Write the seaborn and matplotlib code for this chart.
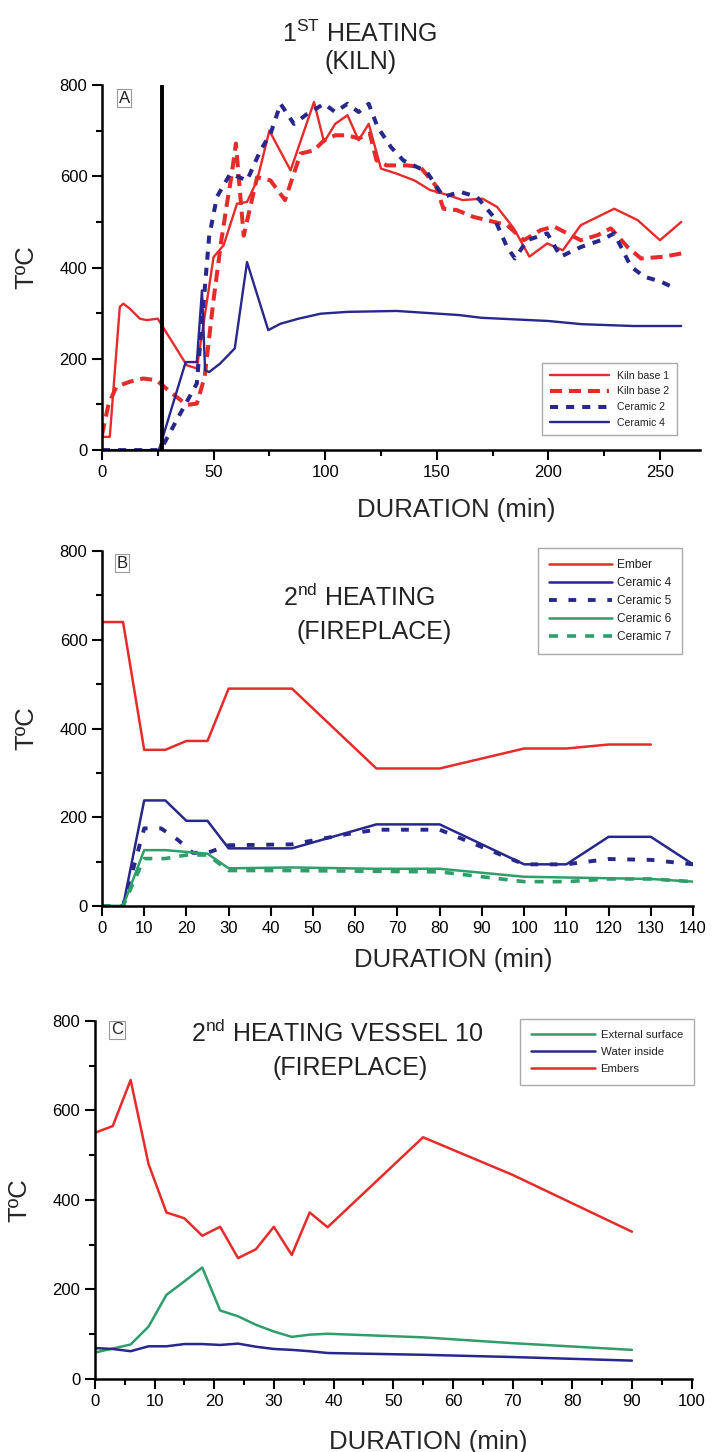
import matplotlib.pyplot as plt
import matplotlib.ticker as mticker
import numpy as np
import pandas as pd
import seaborn as sns

RED = "#e62b2b"
BLUE = "#27278c"
GREEN = "#2f9e6a"

# ---- panel A : 1st heating (kiln) ----
kiln1_t = [0, 3.5, 8, 9.6, 12.5, 17, 20, 25, 38, 42.5, 50, 54.5, 60.5, 65, 69.5, 75, 84.5,
           95, 99.5, 104.5, 110, 115, 119.5, 125, 132, 140, 147, 155, 161.5, 170.5, 177,
           184.5, 191.5, 199.5, 206.5, 214.5, 229.5, 240, 250, 259.5]
kiln1_T = [29, 29, 314, 321, 310, 288, 285, 288, 186, 179, 423, 449, 540, 544, 591, 700, 613,
           763, 675, 715, 734, 679, 715, 617, 606, 591, 570, 559, 548, 551, 533,
           486, 424, 453, 438, 493, 529, 504, 460, 500]

kiln2_t = [0, 3, 6.5, 12.5, 18.5, 24.5, 30.5, 38, 42.5, 46, 50, 53.5, 56, 58, 60, 63.5, 69.5,
           75.5, 82, 89, 95, 99.5, 104.5, 110, 115, 120, 123, 127.5, 136.5, 142.5, 149.5, 153,
           159, 166.5, 172.5, 181.5, 189, 196.5, 202.5, 208.5, 214.5, 222, 228, 235.5, 241.5,
           252, 259.5]
kiln2_T = [33, 102, 139, 150, 157, 153, 128, 99, 102, 160, 330, 460, 540, 600, 672, 470, 598,
           591, 548, 650, 657, 679, 690, 690, 683, 694, 635, 624, 624, 621, 580, 529,
           526, 511, 504, 493, 460, 482, 490, 475, 460, 471, 486, 445, 420,
           424, 431]

cer2_t = [0, 25, 27, 33.5, 42.5, 45.5, 48, 51.5, 57.5, 65, 71, 75.5, 80, 86, 92, 99.5, 104.5,
          110, 115, 119.5, 123.5, 129.5, 135, 145.5, 153, 160.5, 168, 175.5, 181.5, 185, 190.5,
          199.5, 205.5, 214.5, 223.5, 229.5, 237, 243, 250.5, 257]
cer2_T = [0, 0, 7, 66, 146, 321, 467, 555, 606, 591, 657, 693, 759, 715, 737, 759, 741,
          759, 741, 759, 708, 664, 635, 610, 555, 566, 555, 511, 445, 420, 460,
          475, 424, 445, 460, 475, 402, 380, 369, 354]

cer4a_t = [0, 25.5, 37.5, 42.5, 44.8, 46.2, 48, 53, 59.5, 65, 74.5, 80, 88, 98, 110, 132, 160,
           170, 200, 215, 238, 259.5]
cer4a_T = [0, 0, 193, 193, 350, 175, 171, 190, 223, 412, 263, 277, 288, 299, 303, 305, 296,
           290, 283, 276, 272, 272]

door_t = 27  # vertical black marker

# ---- panel B : 2nd heating (fireplace) ----
ember_t = [0, 5, 10, 15, 20, 25, 30, 45, 65, 80, 100, 110, 120, 130]
ember_T = [640, 640, 352, 352, 372, 372, 490, 490, 310, 310, 355, 355, 364, 364]

cer4b_t = [0, 5, 10, 15, 20, 25, 30, 45, 65, 80, 100, 110, 120, 130, 140]
cer4b_T = [0, 0, 238, 238, 192, 192, 130, 130, 184, 184, 94, 94, 156, 156, 94]

cer5_t = [0, 5, 10, 14, 18, 21.5, 25, 30, 45, 58, 65, 80, 100, 110, 120, 130, 140]
cer5_T = [0, 0, 175, 175, 149, 120, 120, 137, 139, 162, 172, 172, 94, 94, 106, 104, 94]

cer6_t = [0, 5, 10, 15, 25, 30, 45, 65, 80, 100, 130, 140]
cer6_T = [0, 0, 126, 126, 118, 85, 87, 84, 84, 66, 61, 55]

cer7_t = [0, 5, 10, 15, 20, 25, 30, 45, 80, 100, 110, 120, 130, 140]
cer7_T = [0, 0, 107, 107, 115, 115, 80, 80, 77, 55, 55, 61, 61, 55]

# ---- panel C : 2nd heating vessel 10 ----
vessel_t = [0, 3, 6, 9, 12, 15, 18, 21, 24, 27, 30, 33, 36, 39, 55, 70, 90]
external_T = [59, 68, 77, 117, 188, 218, 249, 153, 140, 121, 106, 94, 99, 101, 93, 80, 65]
water_T = [69, 67, 62, 73, 73, 78, 78, 76, 79, 72, 67, 65, 62, 58, 54, 49, 41]
embers_T = [550, 565, 668, 480, 372, 359, 320, 340, 270, 290, 340, 277, 372, 339, 540, 456, 329]

sns.set_style("ticks")
plt.rcParams['font.family'] = ['Liberation Sans', 'DejaVu Sans']
plt.rcParams['mathtext.fontset'] = 'custom'
plt.rcParams['mathtext.rm'] = 'Liberation Sans'
plt.rcParams['axes.edgecolor'] = 'black'
plt.rcParams['xtick.color'] = 'black'
plt.rcParams['ytick.color'] = 'black'
plt.rcParams['text.color'] = '#222222'

fig = plt.figure(figsize=(7.13, 14.52), dpi=100)
axA = fig.add_axes([0.143, 0.690, 0.839, 0.2514])
axB = fig.add_axes([0.143, 0.376, 0.829, 0.2445])
axC = fig.add_axes([0.133, 0.0503, 0.837, 0.2466])


def style_axis(ax, xmax, xmajor, xminor, xlab_pos, letter, letter_pos):
    ax.set_xlim(0, xmax)
    ax.set_ylim(0, 800)
    ax.xaxis.set_major_locator(mticker.MultipleLocator(xmajor))
    if xminor:
        ax.xaxis.set_minor_locator(mticker.MultipleLocator(xminor))
    ax.yaxis.set_major_locator(mticker.MultipleLocator(200))
    ax.yaxis.set_minor_locator(mticker.MultipleLocator(100))
    ax.tick_params(which='major', length=7, width=1.5, direction='out', labelsize=12)
    ax.tick_params(which='minor', length=4, width=1.5, direction='out')
    sns.despine(ax=ax)
    for s in ['left', 'bottom']:
        ax.spines[s].set_linewidth(1.8)
    ax.set_xlabel('DURATION (min)', fontsize=18.5)
    ax.set_ylabel('TºC', fontsize=18.5)
    ax.xaxis.set_label_coords(*xlab_pos)
    ax.yaxis.set_label_coords(-0.107, 0.5)
    ax.text(letter_pos[0], letter_pos[1], letter, transform=ax.transAxes, fontsize=12,
            ha='center', va='center',
            bbox=dict(boxstyle='square,pad=0.1', fc='white', ec='#999999', lw=0.8))


# panel A
sns.lineplot(x=kiln1_t, y=kiln1_T, ax=axA, color=RED, lw=1.7, label='Kiln base 1')
sns.lineplot(x=kiln2_t, y=kiln2_T, ax=axA, color=RED, lw=2.9,
             linestyle=(0, (3, 1.7)), label='Kiln base 2')
sns.lineplot(x=cer2_t, y=cer2_T, ax=axA, color=BLUE, lw=2.9,
             linestyle=(0, (2, 2)), label='Ceramic 2')
sns.lineplot(x=cer4a_t, y=cer4a_T, ax=axA, color=BLUE, lw=1.7, label='Ceramic 4')
axA.axvline(door_t, color='black', lw=2.8)
style_axis(axA, 268, 50, 25, (0.592, -0.13), 'A', (0.037, 0.964))
axA.legend(loc='upper left', bbox_to_anchor=(0.736, 0.238), borderaxespad=0,
           fontsize=7.6, handlelength=5.6, labelspacing=0.55, borderpad=0.7,
           fancybox=False, edgecolor='#aaaaaa', framealpha=1)
fig.text(0.505, 0.977, '1$^{\\mathrm{ST}}$ HEATING', ha='center', va='center', fontsize=18)
fig.text(0.505, 0.957, '(KILN)', ha='center', va='center', fontsize=18)

# panel B
sns.lineplot(x=ember_t, y=ember_T, ax=axB, color=RED, lw=1.8, label='Ember')
sns.lineplot(x=cer4b_t, y=cer4b_T, ax=axB, color=BLUE, lw=1.8, label='Ceramic 4')
sns.lineplot(x=cer5_t, y=cer5_T, ax=axB, color=BLUE, lw=2.8,
             linestyle=(0, (2, 3)), label='Ceramic 5')
sns.lineplot(x=cer6_t, y=cer6_T, ax=axB, color=GREEN, lw=1.8, label='Ceramic 6')
sns.lineplot(x=cer7_t, y=cer7_T, ax=axB, color=GREEN, lw=2.6,
             linestyle=(0, (2.5, 2.5)), label='Ceramic 7')
style_axis(axB, 140, 10, None, (0.594, -0.118), 'B', (0.034, 0.966))
axB.legend(loc='upper left', bbox_to_anchor=(0.738, 1.008), borderaxespad=0,
           fontsize=8.6, handlelength=5.3, handletextpad=0.4, labelspacing=0.5,
           borderpad=0.9, fancybox=False, edgecolor='#aaaaaa', framealpha=1)
axB.text(0.435, 0.868, '2$^{\\mathrm{nd}}$ HEATING', transform=axB.transAxes,
         ha='center', va='center', fontsize=18)
axB.text(0.46, 0.772, '(FIREPLACE)', transform=axB.transAxes,
         ha='center', va='center', fontsize=18)

# panel C
sns.lineplot(x=vessel_t, y=external_T, ax=axC, color=GREEN, lw=1.8, label='External surface')
sns.lineplot(x=vessel_t, y=water_T, ax=axC, color=BLUE, lw=1.8, label='Water inside')
sns.lineplot(x=vessel_t, y=embers_T, ax=axC, color=RED, lw=1.8, label='Embers')
style_axis(axC, 100, 10, 5, (0.558, -0.142), 'C', (0.037, 0.975))
axC.legend(loc='upper left', bbox_to_anchor=(0.712, 1.006), borderaxespad=0,
           fontsize=8.2, handlelength=5.6, handletextpad=0.5, labelspacing=0.6,
           borderpad=1.0, fancybox=False, edgecolor='#aaaaaa', framealpha=1)
axC.text(0.407, 0.966, '2$^{\\mathrm{nd}}$ HEATING VESSEL 10', transform=axC.transAxes,
         ha='center', va='center', fontsize=18)
axC.text(0.427, 0.869, '(FIREPLACE)', transform=axC.transAxes,
         ha='center', va='center', fontsize=18)

fig.savefig('out.png', dpi=100)
